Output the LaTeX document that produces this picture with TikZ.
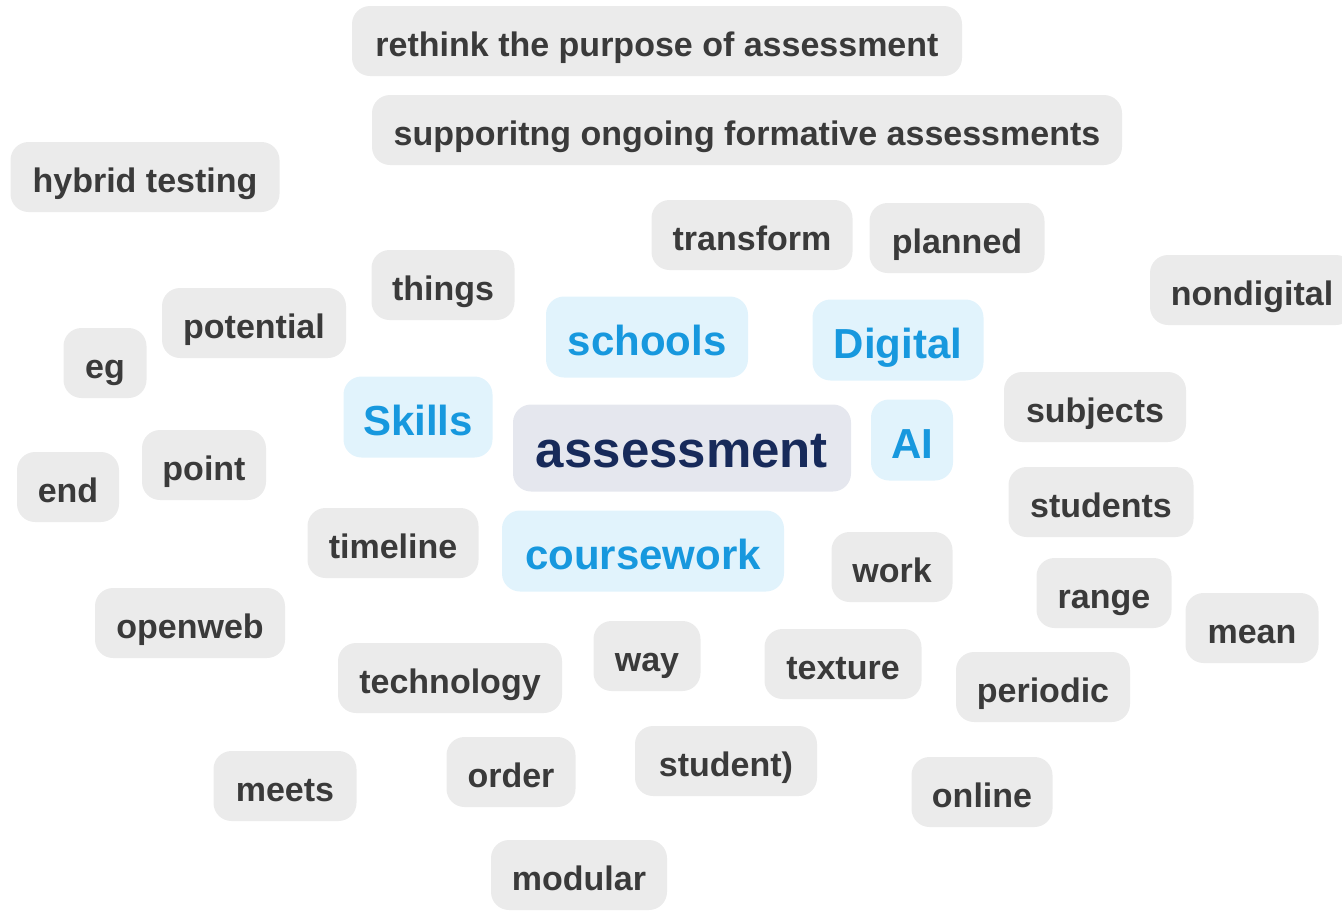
\documentclass[tikz,border=0pt]{standalone}
\usepackage{fontspec}
\setmainfont{Liberation Sans}
\definecolor{gfill}{HTML}{EBEBEB}
\definecolor{gtext}{HTML}{3A3A3A}
\definecolor{bfill}{HTML}{E1F3FC}
\definecolor{btext}{HTML}{1798DE}
\definecolor{afill}{HTML}{E5E7EE}
\definecolor{atext}{HTML}{172A5A}
\tikzset{
  word/.style={rounded corners=18pt, inner sep=0pt},
  gw/.style={word, fill=gfill, text=gtext, minimum height=70pt, text height=34pt, text depth=4pt, font=\bfseries\fontsize{34}{40}\selectfont},
  bw/.style={word, fill=bfill, text=btext, minimum height=81pt, text height=40pt, text depth=4pt, font=\bfseries\fontsize{42}{48}\selectfont},
  aw/.style={word, fill=afill, text=atext, minimum height=87pt, text height=44pt, text depth=6pt, font=\bfseries\fontsize{51}{58}\selectfont},
}
\begin{document}
\begin{tikzpicture}[x=1pt,y=-1pt]
\useasboundingbox (0,0) rectangle (1342,911);
\clip (0,0) rectangle (1342,911);
\node[gw, minimum width=610pt] (w1) at (657,41) {rethink the purpose of assessment};
\node[gw, minimum width=750pt] (w2) at (747,130) {supporitng ongoing formative assessments};
\node[gw, minimum width=269pt] (w3) at (145,177) {hybrid testing};
\node[gw, minimum width=201pt] (w4) at (752,235) {transform};
\node[gw, minimum width=175pt] (w5) at (957,238) {planned};
\node[gw, minimum width=204pt] (w6) at (1252,290) {nondigital};
\node[gw, minimum width=143pt] (w7) at (443,285) {things};
\node[gw, minimum width=184pt] (w8) at (254,323) {potential};
\node[gw, minimum width=83pt] (w9) at (105,363) {eg};
\node[bw, minimum width=202pt] (w10) at (647,337) {schools};
\node[bw, minimum width=171pt] (w11) at (898,340) {Digital};
\node[bw, minimum width=149pt] (w12) at (418,417) {Skills};
\node[aw, minimum width=338pt] (w13) at (682,448) {assessment};
\node[bw, minimum width=82pt] (w14) at (912,440) {AI};
\node[gw, minimum width=182pt] (w15) at (1095,407) {subjects};
\node[gw, minimum width=124pt] (w16) at (204,465) {point};
\node[gw, minimum width=102pt] (w17) at (68,487) {end};
\node[gw, minimum width=185pt] (w18) at (1101,502) {students};
\node[gw, minimum width=171pt] (w19) at (393,543) {timeline};
\node[bw, minimum width=282pt] (w20) at (643,551) {coursework};
\node[gw, minimum width=121pt] (w21) at (892,567) {work};
\node[gw, minimum width=135pt] (w22) at (1104,593) {range};
\node[gw, minimum width=190pt] (w23) at (190,623) {openweb};
\node[gw, minimum width=133pt] (w24) at (1252,628) {mean};
\node[gw, minimum width=107pt] (w25) at (647,656) {way};
\node[gw, minimum width=224pt] (w26) at (450,678) {technology};
\node[gw, minimum width=157pt] (w27) at (843,664) {texture};
\node[gw, minimum width=174pt] (w28) at (1043,687) {periodic};
\node[gw, minimum width=182pt] (w29) at (726,761) {student)};
\node[gw, minimum width=129pt] (w30) at (511,772) {order};
\node[gw, minimum width=143pt] (w31) at (285,786) {meets};
\node[gw, minimum width=141pt] (w32) at (982,792) {online};
\node[gw, minimum width=176pt] (w33) at (579,875) {modular};
\end{tikzpicture}
\end{document}
